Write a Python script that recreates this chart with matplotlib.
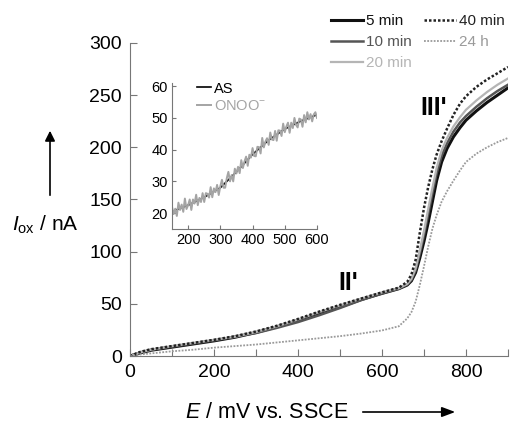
import matplotlib
matplotlib.use("Agg")
import matplotlib.pyplot as plt

plt.rcParams["font.family"] = ["Liberation Sans", "DejaVu Sans"]
plt.rcParams["mathtext.fontset"] = "custom"
plt.rcParams["mathtext.rm"] = "Liberation Sans"
plt.rcParams["mathtext.it"] = "Liberation Sans:italic"

# main voltammograms (E in mV, I in nA)
E = [0, 25, 50, 100, 150, 200, 250, 300, 350, 400, 450, 500, 550, 600, 640, 660,
     670, 680, 690, 700, 710, 720, 730, 742, 755, 770, 786, 800, 825, 850, 875, 900]
I_5min = [0, 3, 5.5, 8.5, 11.5, 14.5, 18, 22.5, 28, 34, 40.5, 47, 54, 60, 64.5, 68,
          72, 80, 94, 110, 128, 148, 168, 186, 199, 210, 219, 226, 235, 243, 250, 257]
I_10min = [0, 3.5, 6, 9, 12, 15, 18.5, 22, 27, 32.5, 39, 46, 53.5, 60, 64.5, 68.5,
           73, 82, 98, 116, 136, 156, 175, 192, 204, 215, 224, 230, 239, 247, 254, 260]
I_20min = [0, 3.5, 6, 9.5, 12.5, 15.5, 18.5, 23, 28.5, 35, 42, 48.5, 55, 61, 65, 69,
           74, 84, 101, 120, 141, 161, 180, 197, 209, 220, 229, 236, 245, 253, 260, 266]
I_40min = [0, 4, 6.5, 9.5, 12.5, 15.5, 19, 23.5, 29, 35.5, 42.5, 49, 55, 61, 65.5, 71,
           78, 92, 118, 142, 162, 179, 193, 206, 218, 231, 242, 249, 258, 265, 271, 277]
I_24h = [0, 1.5, 2.5, 4.5, 6, 8, 9.5, 11, 13, 15, 17, 19, 21.5, 24.5, 28.5, 36,
         42, 52, 68, 86, 105, 122, 135, 148, 158, 168, 178, 186, 194, 200, 205, 209]

# inset
E_in = [150, 200, 250, 300, 350, 400, 450, 500, 550, 600]
I_AS = [20.5, 22.5, 25, 28, 33, 38.5, 43, 46.5, 49, 51]
E_onoo = list(range(150, 601, 5))
I_onoo = [22, 19.7, 21.4, 19.1, 23.3, 21, 22.7, 20.4, 24.6, 21.3,
          22.5, 24.3, 21, 24.3, 23, 25.8, 22.5, 24.8, 23.5, 26.3,
          23.5, 26.3, 26.1, 24.9, 28.2, 25, 27.8, 26.6, 28.9, 25.7,
          28.5, 30.5, 28, 28, 31, 33, 30, 32, 30, 34,
          32.5, 34.6, 32.6, 36.7, 34.2, 36.3, 37.8, 34.9, 38.4, 37.5,
          40.5, 38, 37.9, 40.9, 40.8, 38.8, 43.7, 40.7, 42.6, 43.6,
          41.5, 45.4, 43.2, 43, 45.9, 42.8, 46.1, 46, 44.3, 48.2,
          45.5, 47.3, 48.5, 45.3, 48.5, 46.8, 50, 47.8, 47, 49.8,
          49.5, 47.2, 50.9, 48.6, 51.8, 49.5, 51.2, 48.9, 51.1, 51.8, 50]

spine_c = "#777777"

fig = plt.figure(figsize=(5.11, 4.23), dpi=100)
ax = fig.add_axes([130 / 511, 67 / 423, 378 / 511, 313 / 423])

ax.plot(E, I_5min, color="#111111", lw=2.2, label="5 min")
ax.plot(E, I_10min, color="#555555", lw=1.8, label="10 min")
ax.plot(E, I_20min, color="#b5b5b5", lw=1.6, label="20 min")
ax.plot(E, I_40min, color="#222222", lw=1.8, ls=(0, (1, 0.8)), label="40 min")
ax.plot(E, I_24h, color="#9a9a9a", lw=1.3, ls=(0, (1, 0.8)), label="24 h")

ax.set_xlim(0, 900)
ax.set_ylim(0, 300)
ax.set_xticks(range(0, 901, 100))
ax.set_xticklabels(["0", "", "200", "", "400", "", "600", "", "800", ""])
ax.set_yticks(range(0, 301, 50))
for s in ["top", "right"]:
    ax.spines[s].set_visible(False)
for s in ["left", "bottom"]:
    ax.spines[s].set_color(spine_c)
ax.tick_params(direction="in", length=5, color=spine_c, labelsize=14, pad=6)

ax.text(520, 70, "II'", fontsize=18, fontweight="bold", ha="center", va="center")
ax.text(722, 238, "III'", fontsize=18, fontweight="bold", ha="center", va="center")

leg = fig.legend(loc="upper right", bbox_to_anchor=(1.0, 1 - 8 / 423), ncol=2,
                 frameon=False, fontsize=11, handlelength=2.1, handletextpad=0.2,
                 columnspacing=0.8, labelspacing=0.45, borderpad=0.4,
                 borderaxespad=0, labelcolor="linecolor")

# axis labels with arrows
fig.text(45 / 511, 1 - 225 / 423, r"$I_{\mathrm{ox}}$ / nA", fontsize=15,
         ha="center", va="center")
fig.add_artist(matplotlib.patches.FancyArrowPatch(
    (50 / 511, 1 - 198 / 423), (50 / 511, 1 - 128 / 423), transform=fig.transFigure,
    arrowstyle="-|>,head_length=6,head_width=3", color="black", lw=1.2))
fig.text(267 / 511, 1 - 412 / 423, r"$E$ / mV vs. SSCE", fontsize=15.5,
         ha="center", va="center")
fig.add_artist(matplotlib.patches.FancyArrowPatch(
    (360 / 511, 1 - 412 / 423), (458 / 511, 1 - 412 / 423), transform=fig.transFigure,
    arrowstyle="-|>,head_length=8,head_width=3", color="black", lw=1.2))

# inset
axi = fig.add_axes([172 / 511, 194 / 423, 145 / 511, 146 / 423])
axi.plot(E_in, I_AS, color="black", lw=1.2, label="AS")
axi.plot(E_onoo, I_onoo, color="#a4a4a4", lw=1.4, label="ONOO$^{-}$")
axi.set_xlim(150, 600)
axi.set_ylim(15, 61)
axi.set_xticks([200, 300, 400, 500, 600])
axi.set_yticks([20, 30, 40, 50, 60])
for s in ["top", "right"]:
    axi.spines[s].set_visible(False)
for s in ["left", "bottom"]:
    axi.spines[s].set_color(spine_c)
axi.patch.set_alpha(0)
axi.tick_params(direction="in", length=3, color=spine_c, labelsize=10.5, pad=3)
axi.legend(loc="upper left", bbox_to_anchor=(0.12, 1.06), frameon=False, fontsize=10.5,
           handlelength=1.0, handletextpad=0.2, labelspacing=0.25, borderpad=0,
           labelcolor="linecolor")

fig.savefig("out.png", dpi=100)
